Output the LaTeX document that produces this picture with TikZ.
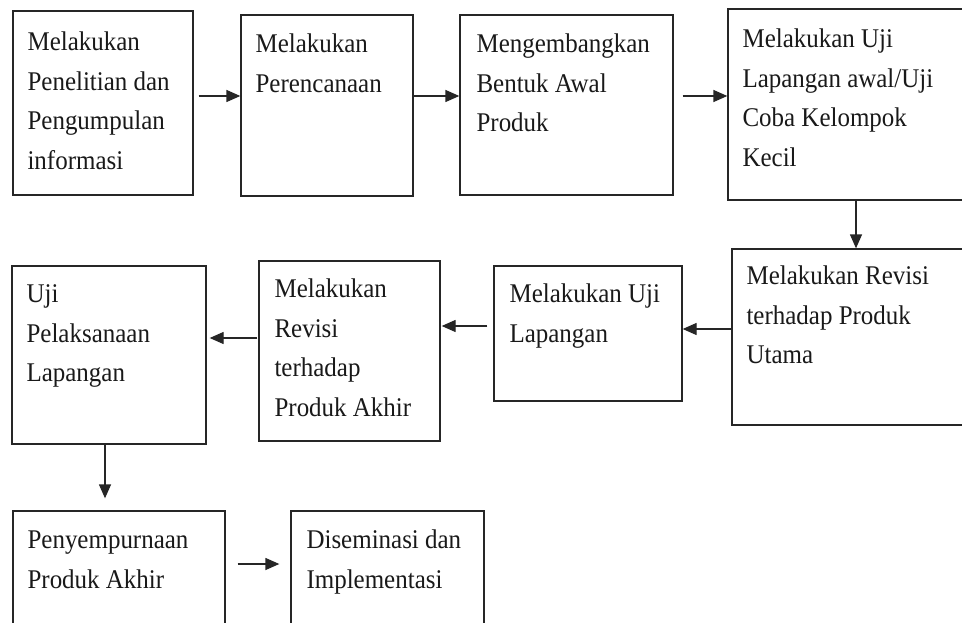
\documentclass[tikz,border=0pt]{standalone}
\usepackage{fontspec}
\setmainfont[FakeStretch=0.925]{Liberation Serif}
\usetikzlibrary{arrows.meta}
\begin{document}
\begin{tikzpicture}[x=1pt,y=-1pt,
  box/.style={draw=black!85, line width=1.3pt, rectangle, inner sep=0pt},
  txt/.style={anchor=north west, align=left, inner sep=0pt, text=black!90,
    font=\fontsize{27}{39.5}\selectfont},
  arr/.style={draw=black!85, line width=1.3pt, -{Triangle[length=14pt,width=12pt]}}]
\useasboundingbox[fill=white] (0,0) rectangle (962,623);
\clip (0,0) rectangle (962,623);
% boxes
\node[box, minimum width=180, minimum height=184] (b1) at (103,103) {};
\node[box, minimum width=172, minimum height=181] (b2) at (327,105.5) {};
\node[box, minimum width=213, minimum height=180] (b3) at (566.5,105) {};
\node[box, minimum width=252, minimum height=191] (b4) at (854,104.5) {};
\node[box, minimum width=248, minimum height=176] (b5) at (856,337) {};
\node[box, minimum width=188, minimum height=135] (b6) at (588,333.5) {};
\node[box, minimum width=181, minimum height=180] (b7) at (349.5,351) {};
\node[box, minimum width=194, minimum height=178] (b8) at (109,355) {};
\node[box, minimum width=212, minimum height=129] (b9) at (119,575.5) {};
\node[box, minimum width=193, minimum height=129] (b10) at (387.5,575.5) {};
% texts (first baseline = shift + 27.65)
\node[txt] (t1) at ([shift={(15,12.35)}]b1.north west) {\strut Melakukan\\Penelitian dan\\Pengumpulan\\informasi};
\node[txt] (t2) at ([shift={(15,10.35)}]b2.north west) {\strut Melakukan\\Perencanaan};
\node[txt] (t3) at ([shift={(17,10.35)}]b3.north west) {\strut Mengembangkan\\Bentuk Awal\\Produk};
\node[txt] (t4) at ([shift={(15,11.35)}]b4.north west) {\strut Melakukan Uji\\Lapangan awal/Uji\\Coba Kelompok\\Kecil};
\node[txt] (t5) at ([shift={(15,8.35)}]b5.north west) {\strut Melakukan Revisi\\terhadap Produk\\Utama};
\node[txt] (t6) at ([shift={(16,9.35)}]b6.north west) {\strut Melakukan Uji\\Lapangan};
\node[txt] (t7) at ([shift={(16,9.35)}]b7.north west) {\strut Melakukan\\Revisi\\terhadap\\Produk Akhir};
\node[txt] (t8) at ([shift={(15,9.35)}]b8.north west) {\strut Uji\\Pelaksanaan\\Lapangan};
\node[txt] (t9) at ([shift={(15,10.35)}]b9.north west) {\strut Penyempurnaan\\Produk Akhir};
\node[txt] (t10) at ([shift={(16,10.35)}]b10.north west) {\strut Diseminasi dan\\Implementasi};
% arrows
\draw[arr] ([shift={(5,-7)}]b1.east) -- ([shift={(0,-9.5)}]b2.west);
\draw[arr] ([shift={(0,-9.5)}]b2.east) -- ([shift={(0,-9)}]b3.west);
\draw[arr] ([shift={(9,-9)}]b3.east) -- ([shift={(0,-8.5)}]b4.west);
\draw[arr] ([shift={(2,0)}]b4.south) -- (b5.north);
\draw[arr] ([shift={(0,-8)}]b5.west) -- ([shift={(0,-4.5)}]b6.east);
\draw[arr] ([shift={(-6,-7.5)}]b6.west) -- ([shift={(1,-25)}]b7.east);
\draw[arr] ([shift={(-1,-13)}]b7.west) -- ([shift={(3,-17)}]b8.east);
\draw[arr] ([shift={(-4,0)}]b8.south) -- ([shift={(-14,-12)}]b9.north);
\draw[arr] ([shift={(12,-11.5)}]b9.east) -- ([shift={(-11,-11.5)}]b10.west);
\end{tikzpicture}
\end{document}
